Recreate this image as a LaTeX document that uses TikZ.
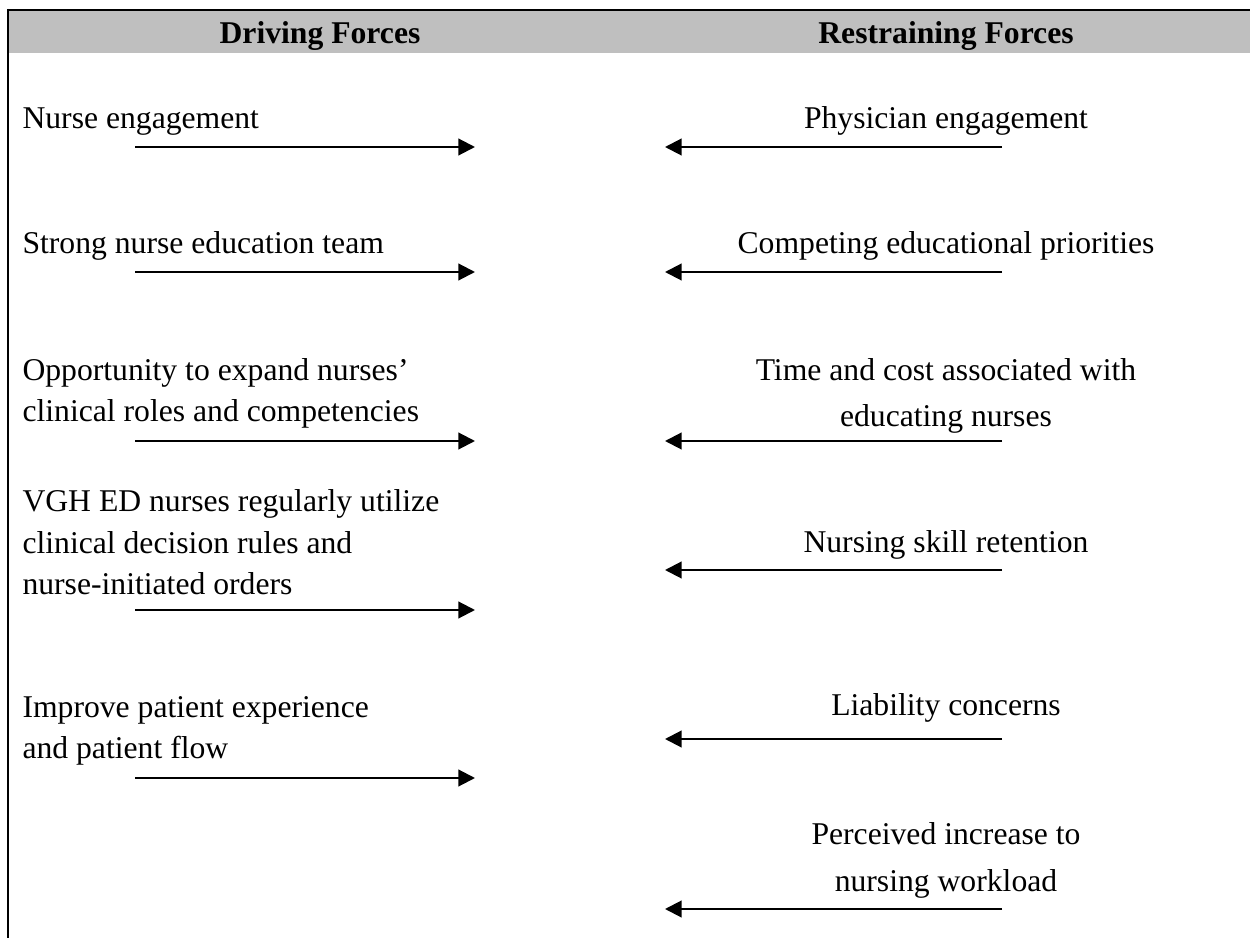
\documentclass[tikz,border=0pt]{standalone}
\usepackage{fontspec}
\setmainfont{Liberation Serif}
\usepackage{xcolor}
\usetikzlibrary{positioning, arrows.meta}

\begin{document}
\begin{tikzpicture}[
  x=0.379pt, y=-0.379pt,
  font=\fontsize{12}{15.9}\selectfont,
  % base anchor of a multi-line node sits on its last line
  driver/.style={anchor=base west, inner sep=0pt, align=left},
  restrainer/.style={anchor=base, inner sep=0pt, align=center, font=\fontsize{12}{17.8}\selectfont},
  title/.style={anchor=base, inner sep=0pt, font=\fontsize{12}{14}\selectfont\bfseries},
  push/.style={-{Triangle[length=6.3pt, width=6.3pt]}, line width=0.8pt},
  frame/.style={line width=0.85pt}
]
\useasboundingbox (0,0) rectangle (1250,938);
% --- header band ---
\fill[gray!50] (9,11) rectangle (1250,53);
\draw[frame] (7,10) -- (1250,10);
\draw[frame] (8,9) -- (8,938);
\node[title] (hdrive) at (320,43.5) {Driving Forces};
\node[title] (hrestrain) at (946,43.5) {Restraining Forces};
% --- driving forces (left) ---
\node[driver] (d1) at (22,129) {Nurse engagement};
\node[driver] (d2) at (22,254) {Strong nurse education team};
\node[driver] (d3) at (22,422) {Opportunity to expand nurses’\\clinical roles and competencies};
\node[driver] (d4) at (22,595) {VGH ED nurses regularly utilize\\clinical decision rules and\\nurse-initiated orders};
\node[driver] (d5) at (22,759) {Improve patient experience\\and patient flow};
\coordinate (d1a) at (135,147); \coordinate (d1b) at (475,147);
\coordinate (d2a) at (135,272); \coordinate (d2b) at (475,272);
\coordinate (d3a) at (135,441); \coordinate (d3b) at (475,441);
\coordinate (d4a) at (135,610); \coordinate (d4b) at (475,610);
\coordinate (d5a) at (135,778); \coordinate (d5b) at (475,778);
\draw[push] (d1a) -- (d1b);
\draw[push] (d2a) -- (d2b);
\draw[push] (d3a) -- (d3b);
\draw[push] (d4a) -- (d4b);
\draw[push] (d5a) -- (d5b);
% --- restraining forces (right) ---
\node[restrainer] (r1) at (946,129) {Physician engagement};
\node[restrainer] (r2) at (946,254) {Competing educational priorities};
\node[restrainer] (r3) at (946,427) {Time and cost associated with\\educating nurses};
\node[restrainer] (r4) at (946,553) {Nursing skill retention};
\node[restrainer] (r5) at (946,716) {Liability concerns};
\node[restrainer] (r6) at (946,891) {Perceived increase to\\nursing workload};
\coordinate (r1a) at (1002,147); \coordinate (r1b) at (665,147);
\coordinate (r2a) at (1002,272); \coordinate (r2b) at (665,272);
\coordinate (r3a) at (1002,441); \coordinate (r3b) at (665,441);
\coordinate (r4a) at (1002,570); \coordinate (r4b) at (665,570);
\coordinate (r5a) at (1002,739); \coordinate (r5b) at (665,739);
\coordinate (r6a) at (1002,909); \coordinate (r6b) at (665,909);
\draw[push] (r1a) -- (r1b);
\draw[push] (r2a) -- (r2b);
\draw[push] (r3a) -- (r3b);
\draw[push] (r4a) -- (r4b);
\draw[push] (r5a) -- (r5b);
\draw[push] (r6a) -- (r6b);
\end{tikzpicture}
\end{document}
